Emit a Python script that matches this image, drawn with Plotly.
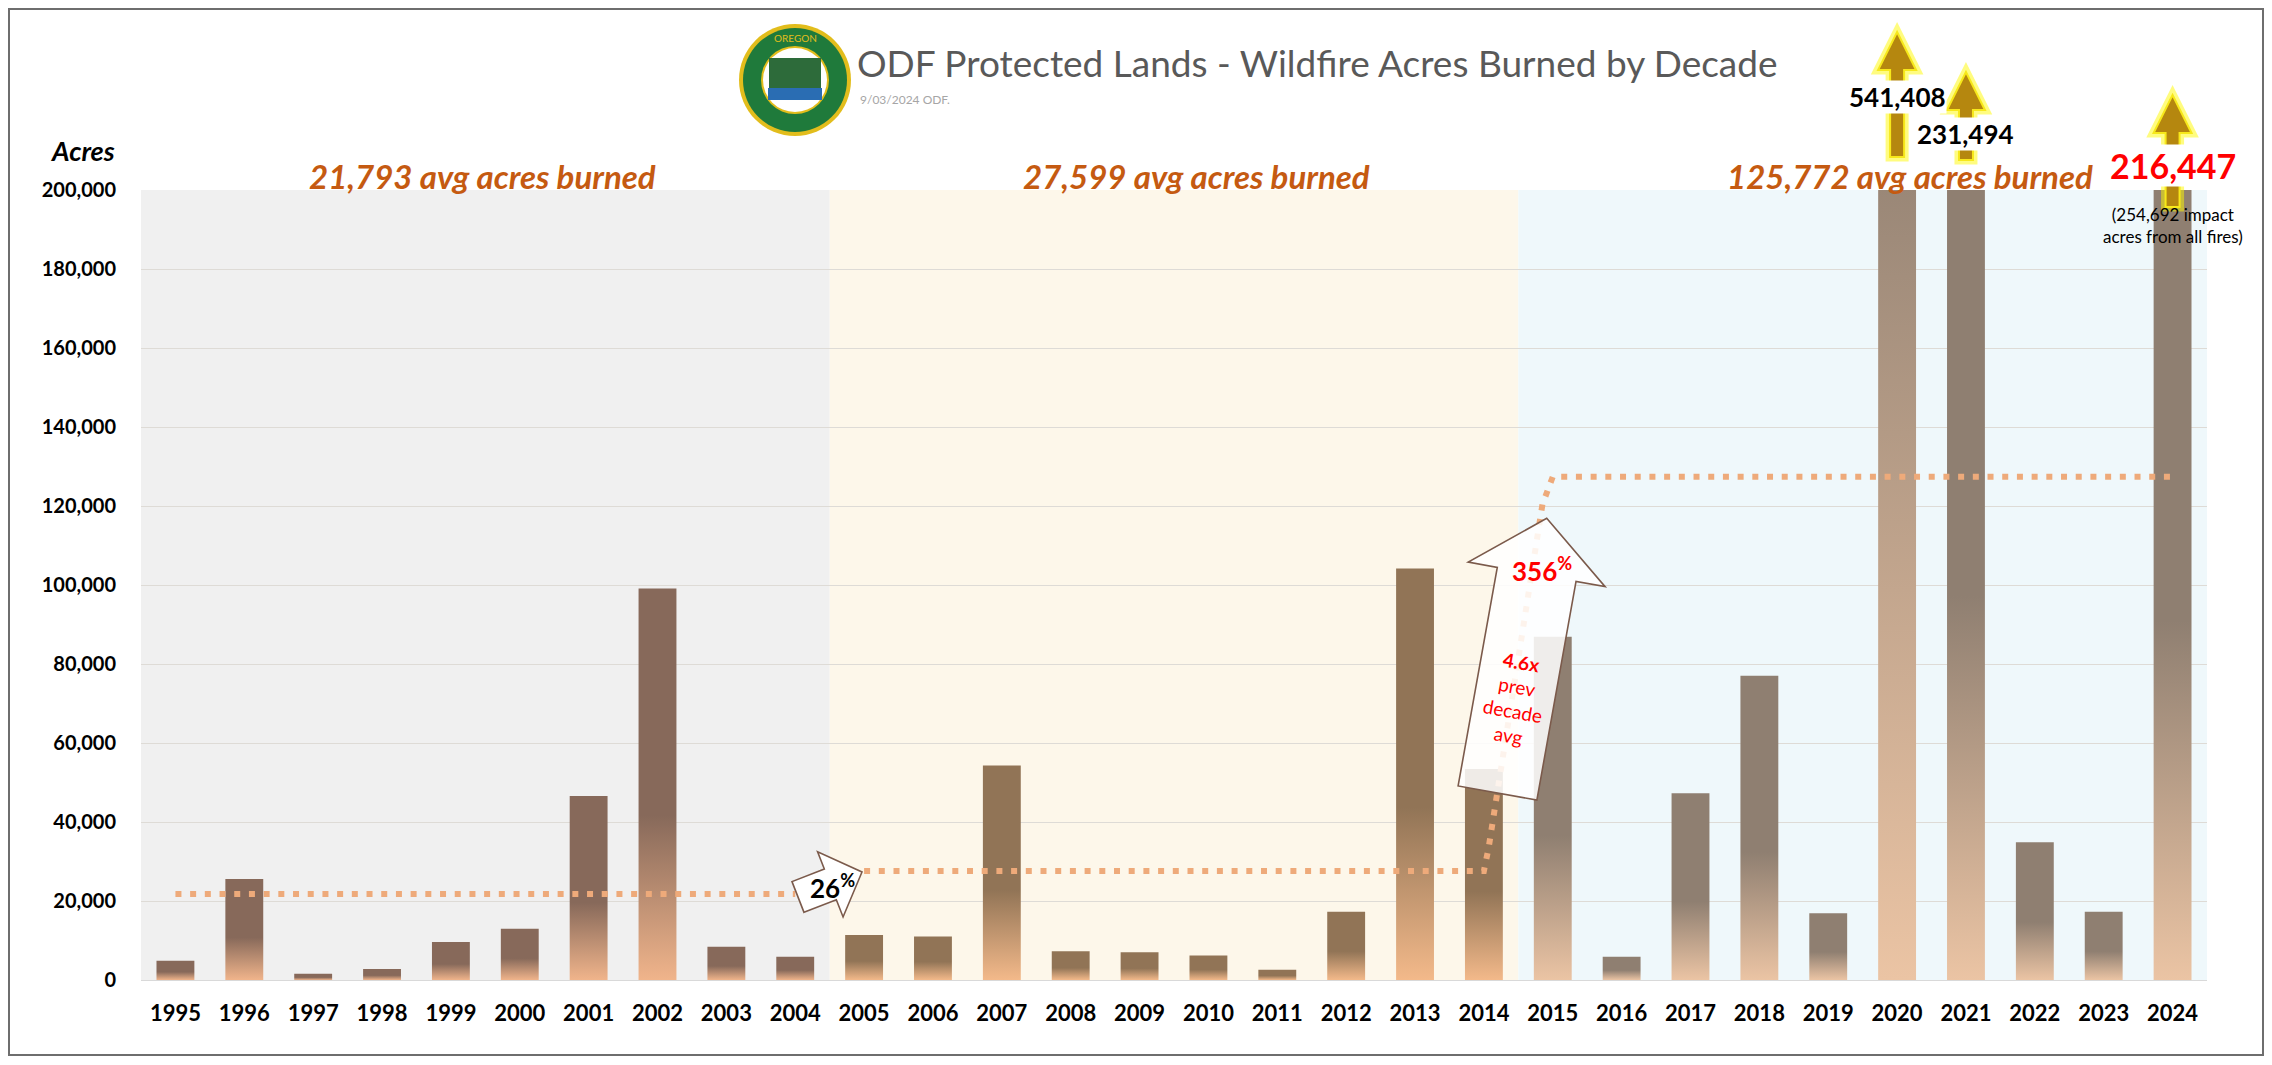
import math
import plotly.graph_objects as go

# ---------------- data ----------------
years = list(range(1995, 2025))
acres = [4900, 25600, 1600, 2800, 9600, 13000, 46600, 99100, 8400, 5900,
         11400, 11000, 54300, 7300, 7000, 6200, 2600, 17300, 104200, 53400,
         86900, 5900, 47300, 77000, 16900, 541408, 231494, 34900, 17300, 216447]
decade_starts = [1995, 2005, 2015]
decade_ends = [2004, 2014, 2024]
decade_avgs = [21793, 27599, 125772]
avg_levels_drawn = [21793, 27599, 127400]
overflow_years = [2020, 2021, 2024]
overflow_labels = ["541,408", "231,494", "216,447"]
ytick_vals = list(range(0, 200001, 20000))
ytick_text = [f"{v:,}" for v in ytick_vals]

# ---------------- style ----------------
decade_bg = ["#f0f0f0", "#fdf7ea", "#eff8fb"]
bar_top = ["#87695a", "#917456", "#8f7f71"]
bar_bottom = ["#f0b48b", "#f3b98a", "#ebc4a4"]
avg_color = "#eeaa7a"
label_orange = "#c55a11"
FONT = "Lato"

OFF = 8                      # default body margin of the html page
W, H = 2272 - 2 * OFF, 1065 - 2 * OFF
L, R, T, B = 141, 2207, 190, 980   # plot area in screen pixels
YMAX = 200000
XMIN, XMAX = 1994.5, 2024.5


def px(x):
    return (x - L) / (R - L)


def py(y):
    return (B - y) / (B - T)


def xpix(year):
    return L + (year - XMIN) / (XMAX - XMIN) * (R - L)


def fat_arrow(tail, tip, shaft_w, head_w, head_len):
    tx, ty = tail
    hx, hy = tip
    dx, dy = hx - tx, hy - ty
    ln = math.hypot(dx, dy)
    ux, uy = dx / ln, dy / ln
    nx, ny = -uy, ux
    bx, by = hx - ux * head_len, hy - uy * head_len
    pts = [
        (tx + nx * shaft_w / 2, ty + ny * shaft_w / 2),
        (bx + nx * shaft_w / 2, by + ny * shaft_w / 2),
        (bx + nx * head_w / 2, by + ny * head_w / 2),
        (hx, hy),
        (bx - nx * head_w / 2, by - ny * head_w / 2),
        (bx - nx * shaft_w / 2, by - ny * shaft_w / 2),
        (tx - nx * shaft_w / 2, ty - ny * shaft_w / 2),
    ]
    return "M " + " L ".join(f"{px(a):.5f},{py(b):.5f}" for a, b in pts) + " Z"


fig = go.Figure()

# bars with vertical gradient
half = 0.275
for yr, v in zip(years, acres):
    d = (yr - 1995) // 10
    fig.add_trace(go.Scatter(
        x=[yr - half, yr - half, yr + half, yr + half, yr - half],
        y=[0, v, v, 0, 0],
        fill="toself", mode="lines", line=dict(width=0),
        fillgradient=dict(type="vertical", start=0, stop=v,
                          colorscale=[[0, bar_bottom[d]], [0.42, bar_top[d]], [1, bar_top[d]]]),
        hoverinfo="skip", showlegend=False))

# decade average dotted lines
dot = dict(color=avg_color, width=6, dash="6px,8.7px")
fig.add_trace(go.Scatter(x=[decade_starts[0], decade_ends[0]], y=[avg_levels_drawn[0]] * 2,
                         mode="lines", line=dot, hoverinfo="skip", showlegend=False))
a2, a3 = avg_levels_drawn[1], avg_levels_drawn[2]
fig.add_trace(go.Scatter(
    x=[decade_starts[1], decade_ends[1], decade_ends[1] + 0.07, decade_ends[1] + 0.85,
       decade_starts[2], decade_ends[2]],
    y=[a2, a2, a2 + 6000, a3 - 7000, a3, a3],
    mode="lines", line=dot, hoverinfo="skip", showlegend=False))

shapes = []
# decade backgrounds
for s, e, c in zip(decade_starts, decade_ends, decade_bg):
    shapes.append(dict(type="rect", xref="x", yref="paper", x0=s - 0.5, x1=e + 0.5, y0=0, y1=1,
                       fillcolor=c, line=dict(width=0), layer="below"))

# outer frame
shapes.append(dict(type="rect", xref="paper", yref="paper", x0=px(9), x1=px(2263),
                   y0=py(1055), y1=py(9), line=dict(color="#6e6e6e", width=2), layer="above"))

# gold overflow arrows
arrow_geom = {2020: (32, 157), 2021: (72, 160), 2024: (95, 207)}
for yr in overflow_years:
    tip_y, bot_y = arrow_geom[yr]
    cx = xpix(yr)
    path = fat_arrow((cx, bot_y), (cx, tip_y), 14, 38, 38)
    shapes.append(dict(type="path", xref="paper", yref="paper", path=path,
                       fillcolor="rgba(255,255,0,0.35)", line=dict(color="rgba(255,250,0,0.5)", width=9),
                       layer="above"))
    shapes.append(dict(type="path", xref="paper", yref="paper", path=path,
                       fillcolor="#b5870f", line=dict(color="#f7e81a", width=2), layer="above"))

# 26% arrow
shapes.append(dict(type="path", xref="paper", yref="paper",
                   path=fat_arrow((798, 897), (862, 872), 33, 70, 34),
                   fillcolor="white", line=dict(color="#7b5a4b", width=1.6), layer="above"))
# 356% arrow
shapes.append(dict(type="path", xref="paper", yref="paper",
                   path=fat_arrow((1497.5, 793), (1546.7, 518.3), 80, 139, 57),
                   fillcolor="rgba(255,255,255,0.86)", line=dict(color="#7b5a4b", width=1.6), layer="above"))

# logo (approximate seal)
lcx, lcy = 795, 80
for r, col in [(56, "#e2bd1c"), (52, "#1f7a3b"), (34, "#e2bd1c"), (32, "#ffffff")]:
    shapes.append(dict(type="circle", xref="paper", yref="paper",
                       x0=px(lcx - r), x1=px(lcx + r), y0=py(lcy + r), y1=py(lcy - r),
                       fillcolor=col, line=dict(width=0), layer="above"))
shapes.append(dict(type="rect", xref="paper", yref="paper", x0=px(lcx - 26), x1=px(lcx + 26),
                   y0=py(lcy + 8), y1=py(lcy - 22), fillcolor="#2d6b3a", line=dict(width=0), layer="above"))
shapes.append(dict(type="rect", xref="paper", yref="paper", x0=px(lcx - 27), x1=px(lcx + 27),
                   y0=py(lcy + 20), y1=py(lcy + 8), fillcolor="#2a6db3", line=dict(width=0), layer="above"))

annotations = []


def ann(text, x, y, size, color="black", xanchor="center", yanchor="middle", **kw):
    d = dict(text=text, xref="paper", yref="paper", x=px(x), y=py(y), showarrow=False,
             font=dict(family=FONT, size=size, color=color), xanchor=xanchor, yanchor=yanchor)
    d.update(kw)
    annotations.append(d)


ann("OREGON", lcx, lcy - 42, 10, color="#e2bd1c")
ann("ODF Protected Lands - Wildfire Acres Burned by Decade", 855, 62, 37, color="#595959", xanchor="left")
ann("9/03/2024 ODF.", 858, 99, 12, color="#a6a6a6", xanchor="left")
ann("<b><i>Acres</i></b>", 117, 151, 27, xanchor="right")

# decade average labels
label_x = [482, 1196, 1910]
for xx, a in zip(label_x, decade_avgs):
    ann(f"<b><i>{a:,} avg acres burned</i></b>", xx, 176, 33, color=label_orange)

# overflow labels
lab_pos = {2020: (97, 26, "black"), 2021: (134, 26, "black"), 2024: (165, 34, "#ff0000")}
for yr, t in zip(overflow_years, overflow_labels):
    yy, sz, col = lab_pos[yr]
    ann(f"<b>{t}</b>", xpix(yr), yy, sz, color=col, bgcolor="white", borderpad=0)
ann("(254,692 impact<br>acres from all fires)", xpix(2024), 225, 17)

ann("<b>26<sup>%</sup></b>", 832, 886, 26)
ann("<b>356<sup>%</sup></b>", 1542, 569, 26, color="#ff0000")
ann("<b>4.6x</b><br>prev<br>decade<br>avg", 1515, 698, 19, color="#ff0000", textangle=10)

fig.update_layout(
    width=W, height=H,
    margin=dict(l=L - OFF, r=(OFF + W) - R, t=T - OFF, b=(OFF + H) - B, pad=0),
    paper_bgcolor="white", plot_bgcolor="white",
    shapes=shapes, annotations=annotations,
    font=dict(family=FONT, color="black"),
    xaxis=dict(range=[XMIN, XMAX], tickvals=years, ticktext=[str(y) for y in years],
               tickfont=dict(family=FONT, size=22, color="black", weight="bold"),
               ticks="outside", ticklen=14, tickcolor="rgba(0,0,0,0)",
               showgrid=False, zeroline=False, showline=True, linecolor="#d9d9d9", linewidth=1),
    yaxis=dict(range=[0, YMAX], tickvals=ytick_vals, ticktext=ytick_text,
               tickfont=dict(family=FONT, size=20, color="black", weight="bold"),
               ticks="outside", ticklen=20, tickcolor="rgba(0,0,0,0)",
               showgrid=True, gridcolor="#dedbd6", gridwidth=1, zeroline=False, showline=False),
    showlegend=False,
)

fig.write_html("out.html")
